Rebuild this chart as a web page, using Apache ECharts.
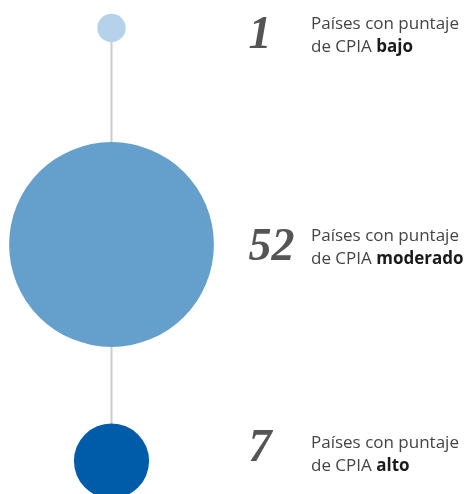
<!DOCTYPE html>
<html>
<head>
<meta charset="utf-8">
<script src="https://cdn.jsdelivr.net/npm/echarts@6/dist/echarts.min.js"></script>
<style>html,body{margin:0;padding:0;background:#fff}#c{width:472px;height:494px}</style>
</head>
<body>
<div id="c"></div>
<script>
const categories = ['bajo', 'moderado', 'alto'];
const counts = [1, 52, 7];
const colors = ['#b5d2ea', '#659fcb', '#005ca9'];
const textPrefix = 'Países con puntaje\nde CPIA ';

// layout (pixels) – label fine offsets per row
const numOffsetY = [8, 4, -12];
const txtOffsetY = [8, 3, -6];
const unitDiameter = 28.4; // diameter for a value of 1 (area proportional)

const chart = echarts.init(document.getElementById('c'), null, {renderer: 'canvas'});
const circleData = counts.map((v, i) => ({
  value: [0, categories[i], v],
  symbolSize: unitDiameter * Math.sqrt(v),
  itemStyle: {color: colors[i], opacity: 1},
  label: {offset: [137, numOffsetY[i]]}
}));
const textData = counts.map((v, i) => ({
  value: [0, categories[i], v],
  label: {offset: [199.5, txtOffsetY[i]]}
}));

chart.setOption({
  animation: false,
  grid: {left: 111.5, right: 0, top: 28, bottom: 33, containLabel: false},
  xAxis: {type: 'value', min: 0, max: 1, show: false},
  yAxis: {type: 'category', data: categories, inverse: true, boundaryGap: false, show: false},
  series: [
    {
      type: 'line',
      data: categories.map(c => [0, c]),
      symbol: 'none',
      lineStyle: {color: '#cccccc', width: 2},
      z: 1,
      silent: true
    },
    {
      type: 'scatter',
      data: circleData,
      z: 2,
      itemStyle: {opacity: 1},
      label: {
        show: true,
        position: 'inside',
        align: 'left',
        verticalAlign: 'middle',
        formatter: p => String(p.value[2]),
        fontFamily: "'Liberation Serif', 'Times New Roman', serif",
        fontStyle: 'italic',
        fontWeight: 'bold',
        fontSize: 46,
        color: '#555555'
      }
    },
    {
      type: 'scatter',
      data: textData,
      symbolSize: 2,
      itemStyle: {color: 'rgba(0,0,0,0)', opacity: 1},
      z: 3,
      label: {
        show: true,
        position: 'inside',
        align: 'left',
        verticalAlign: 'middle',
        formatter: p => '{t|' + textPrefix.replace('\n', '}\n{t|') + '}{b|' + p.value[1] + '}',
        rich: {
          t: {fontFamily: "'Open Sans', sans-serif", fontSize: 17, color: '#444444', lineHeight: 23},
          b: {fontFamily: "'Open Sans', sans-serif", fontSize: 17, fontWeight: 'bold', color: '#1a1a1a', lineHeight: 23}
        }
      }
    }
  ]
});
</script>
</body>
</html>
